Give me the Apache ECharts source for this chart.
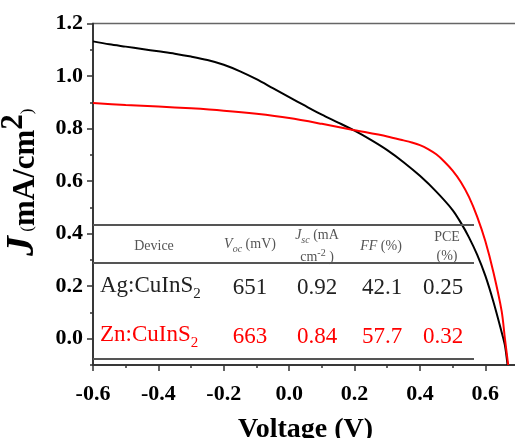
<!DOCTYPE html>
<html>
<head>
<meta charset="utf-8">
<script src="https://cdn.jsdelivr.net/npm/echarts@6/dist/echarts.min.js"></script>
<style>
  html, body { margin: 0; padding: 0; background: #fff; }
  #main { width: 515px; height: 438px; }
</style>
</head>
<body>
<div id="main"></div>
<script>
// J-V data
var agVoltage = [-0.6, -0.55, -0.5, -0.45, -0.4, -0.35, -0.3, -0.25, -0.2, -0.15, -0.1, -0.05, 0.0, 0.05, 0.1, 0.15, 0.2, 0.25, 0.3, 0.35, 0.4, 0.45, 0.5, 0.525, 0.55, 0.575, 0.6, 0.625, 0.65, 0.66, 0.668];
var agCurrent = [1.132, 1.121, 1.112, 1.103, 1.094, 1.085, 1.074, 1.061, 1.043, 1.018, 0.988, 0.954, 0.92, 0.886, 0.853, 0.823, 0.792, 0.757, 0.718, 0.672, 0.62, 0.56, 0.49, 0.442, 0.386, 0.32, 0.24, 0.14, 0.025, -0.025, -0.1];

var znVoltage = [-0.6, -0.5, -0.4, -0.3, -0.2, -0.1, 0.0, 0.1, 0.2, 0.3, 0.35, 0.375, 0.4, 0.425, 0.45, 0.475, 0.5, 0.525, 0.55, 0.575, 0.6, 0.625, 0.65, 0.66, 0.67];
var znCurrent = [0.897, 0.89, 0.884, 0.877, 0.868, 0.856, 0.84, 0.818, 0.794, 0.77, 0.755, 0.747, 0.737, 0.722, 0.702, 0.674, 0.64, 0.597, 0.54, 0.465, 0.372, 0.252, 0.105, 0.0, -0.1];

// tick labels
var xMajor = [-0.6, -0.4, -0.2, 0.0, 0.2, 0.4, 0.6];
var xMinor = [-0.5, -0.3, -0.1, 0.1, 0.3, 0.5];
var yMajor = [0.0, 0.2, 0.4, 0.6, 0.8, 1.0, 1.2];
var yMinor = [-0.1, 0.1, 0.3, 0.5, 0.7, 0.9, 1.1];

// inset table
var tableDevices = ['Ag:CuInS', 'Zn:CuInS'];
var tableVoc = ['651', '663'];
var tableJsc = ['0.92', '0.84'];
var tableFF = ['42.1', '57.7'];
var tablePCE = ['0.25', '0.32'];
var rowColors = ['#222', '#ff0000'];

function pairs(xs, ys) {
  var out = [];
  for (var i = 0; i < xs.length; i++) {
    out.push([xs[i], ys[i]]);
  }
  return out;
}

var serif = '"Liberation Serif", "Times New Roman", serif';
var axisColor = '#333';

function txt(x, y, text, font, fill, align, rich) {
  var st = {
    x: x, y: y, text: text, font: font, fill: fill,
    align: align || 'center', verticalAlign: 'middle',
    textAlign: align || 'center', textVerticalAlign: 'middle'
  };
  if (rich) st.rich = rich;
  return { type: 'text', z: 100, style: st };
}
function hline(y) {
  return { type: 'line', z: 90, shape: { x1: 93, y1: y, x2: 474, y2: y }, style: { stroke: '#555', lineWidth: 2 } };
}

var graphics = [hline(225), hline(263), hline(359)];
var hs = 14;
var headFont = hs + 'px ' + serif;
var headColor = '#555';
graphics.push(txt(154, 246, 'Device', headFont, headColor));
graphics.push(txt(250, 246, '{i|V}{s|oc}{n| (mV)}', headFont, headColor, 'center', {
  i: { fontFamily: serif, fontSize: hs, fontStyle: 'italic', fill: headColor, verticalAlign: 'bottom', padding: [0, 0, 3, 0] },
  s: { fontFamily: serif, fontSize: 10, fontStyle: 'italic', fill: headColor, verticalAlign: 'bottom' },
  n: { fontFamily: serif, fontSize: hs, fill: headColor, verticalAlign: 'bottom', padding: [0, 0, 3, 0] }
}));
graphics.push(txt(317, 237, '{i|J}{s|sc}{n| (mA}', headFont, headColor, 'center', {
  i: { fontFamily: serif, fontSize: hs, fontStyle: 'italic', fill: headColor, verticalAlign: 'bottom', padding: [0, 0, 3, 0] },
  s: { fontFamily: serif, fontSize: 10, fontStyle: 'italic', fill: headColor, verticalAlign: 'bottom' },
  n: { fontFamily: serif, fontSize: hs, fill: headColor, verticalAlign: 'bottom', padding: [0, 0, 3, 0] }
}));
graphics.push(txt(317, 256, '{n|cm}{s|-2}{n| )}', headFont, headColor, 'center', {
  n: { fontFamily: serif, fontSize: hs, fill: headColor, verticalAlign: 'bottom' },
  s: { fontFamily: serif, fontSize: 10, fill: headColor, verticalAlign: 'bottom', padding: [0, 0, 6, 0] }
}));
graphics.push(txt(381, 246, '{i|FF}{n| (%)}', headFont, headColor, 'center', {
  i: { fontFamily: serif, fontSize: hs, fontStyle: 'italic', fill: headColor },
  n: { fontFamily: serif, fontSize: hs, fill: headColor }
}));
graphics.push(txt(447, 237, 'PCE', headFont, headColor));
graphics.push(txt(447, 256, '(%)', headFont, headColor));

var rowY = [288, 337];
for (var r = 0; r < tableDevices.length; r++) {
  var c = rowColors[r];
  var f = '23px ' + serif;
  graphics.push(txt(100, rowY[r], '{n|' + tableDevices[r] + '}{s|2}', f, c, 'left', {
    n: { fontFamily: serif, fontSize: 23, fill: c, verticalAlign: 'bottom', padding: [0, 0, 5, 0] },
    s: { fontFamily: serif, fontSize: 15, fill: c, verticalAlign: 'bottom' }
  }));
  graphics.push(txt(250, rowY[r], tableVoc[r], f, c));
  graphics.push(txt(317, rowY[r], tableJsc[r], f, c));
  graphics.push(txt(382, rowY[r], tableFF[r], f, c));
  graphics.push(txt(443, rowY[r], tablePCE[r], f, c));
}

var labelStyle = { fontFamily: serif, fontWeight: 'bold', fontSize: 22, color: '#000' };

var option = {
  backgroundColor: '#fff',
  animation: false,
  grid: {
    left: 93, right: -3, top: 23.5, bottom: 73, outerBoundsMode: 'none', containLabel: false,
    show: true, borderColor: '#666', borderWidth: 1.5
  },
  xAxis: [{
    type: 'value', min: -0.6, max: 0.7, position: 'bottom',
    name: 'Voltage (V)', nameLocation: 'middle', nameGap: 51,
    nameTextStyle: { fontFamily: serif, fontWeight: 'bold', fontSize: 28, color: '#000' },
    axisLine: { onZero: false, lineStyle: { color: axisColor, width: 1.5 } },
    axisTick: { customValues: xMajor, length: 6, lineStyle: { color: axisColor, width: 1.5 } },
    axisLabel: Object.assign({ customValues: xMajor, margin: 18, formatter: function (v) { return v.toFixed(1); } }, labelStyle),
    splitLine: { show: false }
  }, {
    type: 'value', min: -0.6, max: 0.7, position: 'bottom', offset: 0,
    axisLine: { onZero: false, lineStyle: { color: axisColor, width: 1.5 } },
    axisTick: { customValues: xMinor, length: 3, lineStyle: { color: axisColor, width: 1.5 } },
    axisLabel: { show: false },
    splitLine: { show: false }
  }],
  yAxis: [{
    type: 'value', min: -0.1, max: 1.2, position: 'left',
    name: '{j|J}{p| (}{m|mA/cm}{sup|2}{p|)}', nameLocation: 'middle', nameGap: 50,
    nameTextStyle: {
      padding: [0, 0, 0, 24],
      rich: {
        j: { fontFamily: serif, fontWeight: 'bold', fontStyle: 'italic', fontSize: 40, color: '#000', verticalAlign: 'bottom' },
        p: { fontFamily: serif, fontSize: 17, color: '#000', verticalAlign: 'bottom', padding: [0, 0, 7, 0] },
        m: { fontFamily: serif, fontWeight: 'bold', fontSize: 31, color: '#000', verticalAlign: 'bottom', padding: [0, 0, 2, 0] },
        sup: { fontFamily: serif, fontWeight: 'bold', fontSize: 31, color: '#000', verticalAlign: 'bottom', padding: [0, 0, 14, 0] }
      }
    },
    axisLine: { onZero: false, lineStyle: { color: axisColor, width: 1.5 } },
    axisTick: { customValues: yMajor, length: 6, lineStyle: { color: axisColor, width: 1.5 } },
    axisLabel: Object.assign({ customValues: yMajor, margin: 10, formatter: function (v) { return v.toFixed(1); } }, labelStyle),
    splitLine: { show: false }
  }, {
    type: 'value', min: -0.1, max: 1.2, position: 'left', offset: 0,
    axisLine: { onZero: false, lineStyle: { color: axisColor, width: 1.5 } },
    axisTick: { customValues: yMinor, length: 3, lineStyle: { color: axisColor, width: 1.5 } },
    axisLabel: { show: false },
    splitLine: { show: false }
  }],
  series: [{
    name: 'Ag:CuInS2', type: 'line', showSymbol: false, smooth: 0.3,
    data: pairs(agVoltage, agCurrent),
    lineStyle: { color: '#000', width: 2 }, itemStyle: { color: '#000' }
  }, {
    name: 'Zn:CuInS2', type: 'line', showSymbol: false, smooth: 0.3,
    data: pairs(znVoltage, znCurrent),
    lineStyle: { color: '#ff0000', width: 2 }, itemStyle: { color: '#ff0000' }
  }],
  graphic: graphics
};

var chart = echarts.init(document.getElementById('main'));
chart.setOption(option);
</script>
</body>
</html>
